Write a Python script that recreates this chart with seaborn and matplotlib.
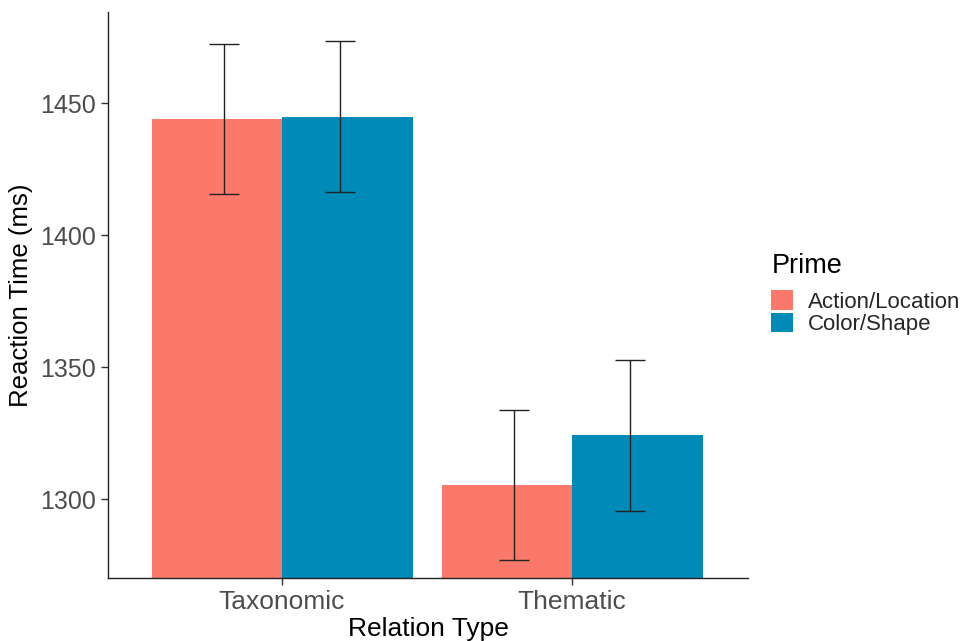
import numpy as np
import pandas as pd
import seaborn as sns
import matplotlib.pyplot as plt
from matplotlib.patches import Patch

# === data ===
relation = ["Taxonomic", "Taxonomic", "Thematic", "Thematic"]
prime = ["Action/Location", "Color/Shape", "Action/Location", "Color/Shape"]
rt_mean = [1444.0, 1445.0, 1305.4, 1324.3]
rt_se = [28.5, 28.7, 28.4, 28.6]

hue_order = ["Action/Location", "Color/Shape"]
palette = {"Action/Location": "#FA796A", "Color/Shape": "#008AB8"}

df = pd.DataFrame({"Relation": relation, "Prime": prime, "RT": rt_mean, "SE": rt_se})

sns.set_theme(style="ticks")
plt.rcParams["font.family"] = ["Liberation Sans", "DejaVu Sans"]

fig = plt.figure(figsize=(9.6, 6.41), dpi=100)
ax = fig.add_axes([0.1125, 0.0983, 0.6667, 0.883])

sns.barplot(data=df, x="Relation", y="RT", hue="Prime", hue_order=hue_order,
            palette=palette, width=0.9, errorbar=None, saturation=1,
            linewidth=0, ax=ax, legend=False)

# error bars dodged a bit narrower than the bars (dodge width 0.8)
cats = list(dict.fromkeys(relation))
for i, h in enumerate(hue_order):
    sub = df[df["Prime"] == h]
    xs = [cats.index(r) + (i - 0.5) * 0.4 for r in sub["Relation"]]
    ax.errorbar(xs, sub["RT"].values, yerr=sub["SE"].values, fmt="none",
                ecolor="#222222", elinewidth=1, capsize=10.5, capthick=1)

ax.set_ylim(1270.2, 1484.6)
ax.set_xlim(-0.6, 1.607)
ax.set_yticks([1300, 1350, 1400, 1450])

ax.set_xlabel("Relation Type", fontsize=19, color="black", labelpad=2)
ax.set_ylabel("Reaction Time (ms)", fontsize=18.5, color="black", labelpad=5)
ax.tick_params(axis="both", color="#333333", length=5, width=1,
               labelcolor="#4D4D4D")
ax.tick_params(axis="y", labelsize=18)
ax.tick_params(axis="x", labelsize=19)
sns.despine(ax=ax)
for s in ["left", "bottom"]:
    ax.spines[s].set_color("#222222")
    ax.spines[s].set_linewidth(1)

# legend outside on the right
fig.text(772 / 960, 1 - 273 / 641, "Prime", fontsize=19.5, color="black",
         ha="left", va="baseline")
handles = [Patch(facecolor=palette[h], edgecolor="none", label=h) for h in hue_order]
fig.legend(handles=handles, loc="upper left",
           bbox_to_anchor=(771 / 960, 1 - 290 / 641), frameon=False, fontsize=16,
           handlelength=1.0, handleheight=1.0, labelspacing=0.0,
           handletextpad=0.68, borderaxespad=0, borderpad=0)

fig.savefig("out.png", dpi=100)
